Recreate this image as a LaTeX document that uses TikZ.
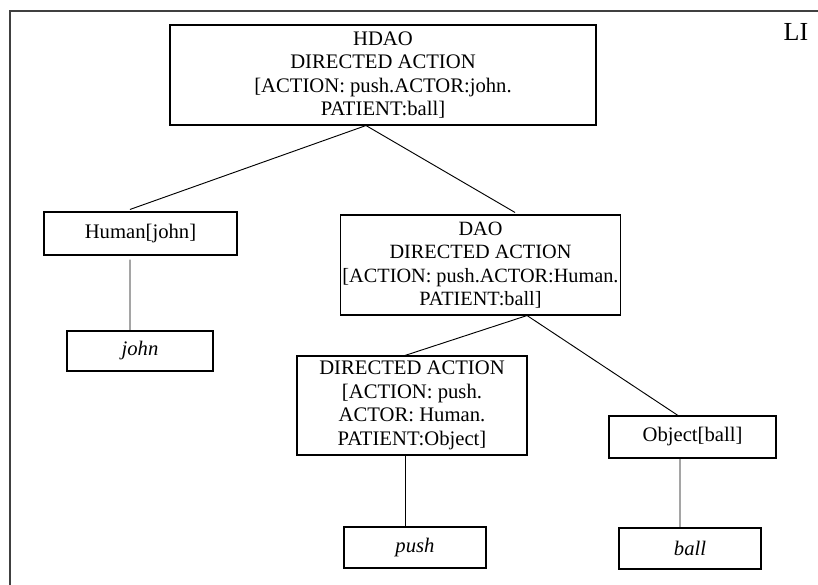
\documentclass[tikz,border=0pt]{standalone}
\usepackage{fontspec}
\setmainfont{Liberation Serif}
\begin{document}
\begin{tikzpicture}[x=0.75pt,y=-0.75pt,
  box/.style={draw,line width=0.8pt,rectangle,inner sep=0pt,align=center,
    font=\fontsize{15.5}{17.6}\selectfont},
  link/.style={line width=0.7pt}]
\useasboundingbox (0,0) rectangle (818,585);
\draw[line width=0.9pt,black!75] (10,585) -- (10,11) -- (818,11);
\node[font=\fontsize{19.5}{22}\selectfont] (li) at (796,32) {LI};
\node[box,minimum width=426*0.75pt,minimum height=100*0.75pt] (hdao) at (383,75)
  {HDAO\\DIRECTED ACTION\\{}[ACTION: push.ACTOR:john.\\PATIENT:ball]};
\node[box,minimum width=193*0.75pt,minimum height=43*0.75pt] (human) at (140.5,233.5) {Human[john]};
\node[box,minimum width=146*0.75pt,minimum height=40*0.75pt] (john) at (140,351) {\itshape john};
\node[box,inner xsep=1.5pt,font=\fontsize{15.2}{17.6}\selectfont,
  minimum width=267*0.75pt,minimum height=100*0.75pt] (dao) at (480.5,265)
  {DAO\\DIRECTED ACTION\\{}[ACTION: push.ACTOR:Human.\\PATIENT:ball]};
\node[box,minimum width=230*0.75pt,minimum height=99*0.75pt] (da) at (412,405.5)
  {DIRECTED ACTION\\{}[ACTION: push.\\ACTOR: Human.\\PATIENT:Object]};
\node[box,minimum width=167*0.75pt,minimum height=42*0.75pt] (obj) at (692.5,437) {Object[ball]};
\node[box,minimum width=142*0.75pt,minimum height=41*0.75pt] (push) at (415,547.5) {\itshape push};
\node[box,minimum width=142*0.75pt,minimum height=41*0.75pt] (ball) at (690,548.5) {\itshape ball};
\draw[link] ([xshift=-12.75pt]hdao.south) -- ([xshift=-7.9pt,yshift=1.5pt]human.north);
\draw[link] ([xshift=-12.75pt]hdao.south) -- ([xshift=25.9pt,yshift=1.5pt]dao.north);
\draw[link] ([xshift=-7.9pt,yshift=-3pt]human.south) -- ([xshift=-7.5pt]john.north);
\draw[link] ([xshift=34.9pt]dao.south) -- ([xshift=-5.25pt]da.north);
\draw[link] ([xshift=34.9pt]dao.south) -- ([xshift=-10.9pt]obj.north);
\draw[link] ([xshift=-5.25pt]da.south) -- ([xshift=-7.5pt]push.north);
\draw[link] ([xshift=-9.4pt]obj.south) -- ([xshift=-7.5pt]ball.north);
\end{tikzpicture}
\end{document}
